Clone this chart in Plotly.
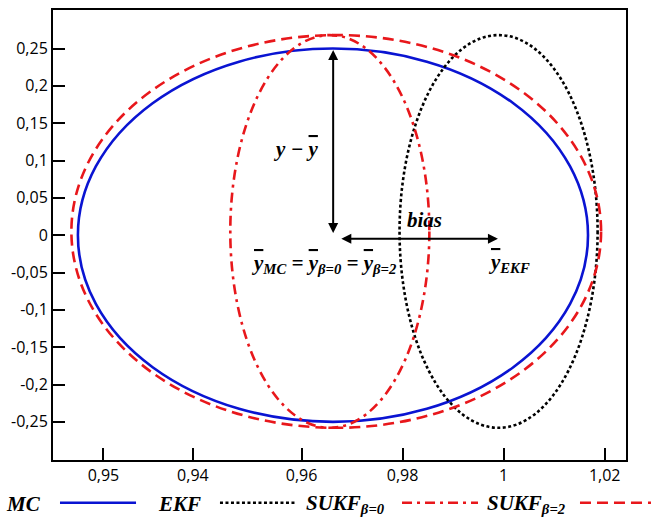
import plotly.graph_objects as go

# Ellipse parameters for each estimator (centre and semi-axes in data units)
series = ["MC", "EKF", "SUKF<sub>β=0</sub>", "SUKF<sub>β=2</sub>"]
center_x = [0.96622, 0.99900, 0.96560, 0.96687]
center_y = [0.0, 0.005, 0.005, 0.005]
half_x = [0.05048, 0.01960, 0.01970, 0.05242]
half_y = [0.250, 0.263, 0.263, 0.263]
colors = ["#0a14d2", "#000000", "#e8171b", "#e8171b"]
dashes = ["solid", "3px,2.5px", "10px,5px,3px,5px", "11px,6px"]

# Axis ticks
x_tickvals = [0.9208, 0.9385, 0.96, 0.98, 1.0, 1.02]
x_ticktext = ["0,95", "0,94", "0,96", "0,98", "1", "1,02"]
y_tickvals = [0.25, 0.2, 0.15, 0.1, 0.05, 0.0, -0.05, -0.1, -0.15, -0.2, -0.25]
y_ticktext = ["0,25", "0,2", "0,15", "0,1", "0,05", "0",
              "-0,05", "-0,1", "-0,15", "-0,2", "-0,25"]

# Mean-point markers used by the arrows
mean_mc = (0.96626, 0.003)
spread_top = 0.25
bias_y = -0.0047
bias_x = (0.96758, 0.99887)

fig = go.Figure()

shapes = []
for cx, cy, a, b, col, d in zip(center_x, center_y, half_x, half_y, colors, dashes):
    shapes.append(dict(type="circle", xref="x", yref="y",
                       x0=cx - a, x1=cx + a, y0=cy - b, y1=cy + b,
                       line=dict(color=col, width=2.6, dash=d)))

# Legend keys drawn below the axes: label first, then a line sample
legend_line_x = [(0.0122, 0.1449), (0.2914, 0.4223), (0.6091, 0.7417), (0.9197, 1.0436)]
legend_text_x = [-0.0175, 0.2618, 0.5829, 0.897]
legend_y = -0.0951
for (x0, x1), col, d in zip(legend_line_x, colors, dashes):
    shapes.append(dict(type="line", xref="paper", yref="paper",
                       x0=x0, x1=x1, y0=legend_y, y1=legend_y,
                       line=dict(color=col, width=2.6, dash=d)))

serif_family = "Liberation Serif, Times New Roman, serif"
serif = dict(family=serif_family, size=21, color="black")

YBAR = "<span style='text-decoration:overline'>y</span>"


def bi(s):
    return "<b><i>" + s + "</i></b>"


annotations = []
for name, tx in zip(series, legend_text_x):
    annotations.append(dict(xref="paper", yref="paper", x=tx, y=legend_y - 0.003,
                            xanchor="right", yanchor="middle", showarrow=False,
                            text=bi(name), font=serif))

# Arrows
annotations.append(dict(xref="x", yref="y", axref="x", ayref="y",
                        x=mean_mc[0], y=mean_mc[1], ax=mean_mc[0], ay=spread_top,
                        text="", showarrow=True, arrowhead=2, startarrowhead=2,
                        arrowside="end+start", arrowwidth=2, arrowsize=1,
                        startarrowsize=1, arrowcolor="black"))
annotations.append(dict(xref="x", yref="y", axref="x", ayref="y",
                        x=bias_x[1], y=bias_y, ax=bias_x[0], ay=bias_y,
                        text="", showarrow=True, arrowhead=2, startarrowhead=2,
                        arrowside="end+start", arrowwidth=2, arrowsize=1,
                        startarrowsize=1, arrowcolor="black"))

# Text labels
labels = [
    ("y − " + YBAR, 0.95887, 0.1149),
    ("bias", 0.98442, 0.0203),
    (YBAR + "<sub>MC</sub> = " + YBAR + "<sub>β=0</sub> = " + YBAR + "<sub>β=2</sub>",
     0.96442, -0.0384),
    (YBAR + "<sub>EKF</sub>", 1.00105, -0.0371),
]
for txt, lx, ly in labels:
    annotations.append(dict(xref="x", yref="y", x=lx, y=ly, text=bi(txt),
                            showarrow=False, xanchor="center", yanchor="middle",
                            font=serif))

axis_common = dict(showline=True, linewidth=2, linecolor="black", mirror=True,
                   ticks="inside", ticklen=12, tickwidth=2, tickcolor="black",
                   showgrid=False, zeroline=False,
                   tickfont=dict(family="Open Sans", size=16, color="black"))

fig.update_layout(
    width=652, height=519,
    margin=dict(l=53, r=26, t=8, b=59),
    paper_bgcolor="white", plot_bgcolor="white",
    showlegend=False,
    shapes=shapes, annotations=annotations,
    xaxis=dict(range=[0.91081, 1.02422], tickmode="array",
               tickvals=x_tickvals, ticktext=x_ticktext, **axis_common),
    yaxis=dict(range=[-0.3011, 0.3016], tickmode="array",
               tickvals=y_tickvals, ticktext=y_ticktext, **axis_common),
)

fig.write_html("out.html")
